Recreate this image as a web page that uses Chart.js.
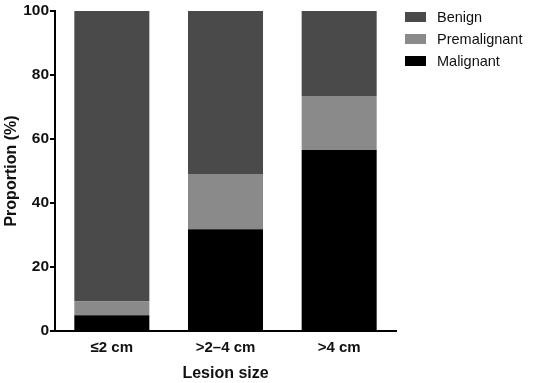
<!DOCTYPE html>
<html>
<head>
<meta charset="utf-8">
<script src="https://cdn.jsdelivr.net/npm/chart.js@4"></script>
<style>
    html, body { margin: 0; padding: 0; background: #fff; }
    #wrap { width: 533px; height: 383px; }
</style>
</head>
<body>
<div id="wrap"><canvas id="lesionChart" width="533" height="383"></canvas></div>
<script>
// Data (percent of lesions per size group)
const sizeGroups = ["\u22642 cm", ">2\u20134 cm", ">4 cm"];
const malignant = [4.9, 31.8, 56.6];
const premalignant = [4.3, 17.3, 16.8];
const benign = [90.8, 50.9, 26.6];
const yTicks = [0, 20, 40, 60, 80, 100];

const FONT = "'Liberation Sans', Arial, Helvetica, sans-serif";

// Legend drawn by hand so it sits where the original has it (Benign on top)
const sideLegend = {
    id: "sideLegend",
    afterDraw(chart) {
        const c = chart.ctx;
        const items = chart.data.datasets.slice().reverse();
        c.save();
        c.font = "14.5px " + FONT;
        c.textBaseline = "middle";
        items.forEach((ds, i) => {
            const y = 17 + i * 22;
            c.fillStyle = ds.backgroundColor;
            c.fillRect(405, y - 5, 21, 10);
            c.fillStyle = "#111";
            c.fillText(ds.label, 437, y + 1);
        });
        c.restore();
    }
};

const ctx = document.getElementById("lesionChart").getContext("2d");

new Chart(ctx, {
    type: "bar",
    data: {
        labels: sizeGroups,
        datasets: [
            { label: "Malignant", data: malignant, backgroundColor: "#000000" },
            { label: "Premalignant", data: premalignant, backgroundColor: "#8a8a8a" },
            { label: "Benign", data: benign, backgroundColor: "#4a4a4a" }
        ]
    },
    options: {
        responsive: false,
        animation: false,
        layout: { padding: { left: 0, right: 137, top: 11, bottom: 0 } },
        datasets: {
            bar: { categoryPercentage: 1, barPercentage: 0.66, borderWidth: 0 }
        },
        scales: {
            x: {
                stacked: true,
                grid: { display: false, drawTicks: false },
                border: { color: "#000", width: 2 },
                ticks: {
                    color: "#111",
                    padding: 8,
                    font: { family: FONT, size: 15, weight: "bold" }
                },
                title: {
                    display: true,
                    text: "Lesion size",
                    color: "#111",
                    padding: { top: 2, bottom: 0 },
                    font: { family: FONT, size: 16, weight: "bold" }
                },
                afterFit: function (scale) { scale.height = 52; }
            },
            y: {
                stacked: true,
                min: 0,
                max: 100,
                grid: {
                    drawOnChartArea: false,
                    color: "#000",
                    lineWidth: 2,
                    tickLength: 5
                },
                border: { color: "#000", width: 2 },
                afterBuildTicks: function (scale) {
                    scale.ticks = yTicks.map(v => ({ value: v }));
                },
                ticks: {
                    color: "#111",
                    padding: 1,
                    font: { family: FONT, size: 15.5, weight: "bold" }
                },
                title: {
                    display: true,
                    text: "Proportion (%)",
                    color: "#111",
                    padding: { top: 2, bottom: 0 },
                    font: { family: FONT, size: 16, weight: "bold" }
                },
                afterFit: function (scale) { scale.width = 55; }
            }
        },
        plugins: {
            legend: { display: false },
            tooltip: { enabled: false }
        }
    },
    plugins: [sideLegend]
});
</script>
</body>
</html>
